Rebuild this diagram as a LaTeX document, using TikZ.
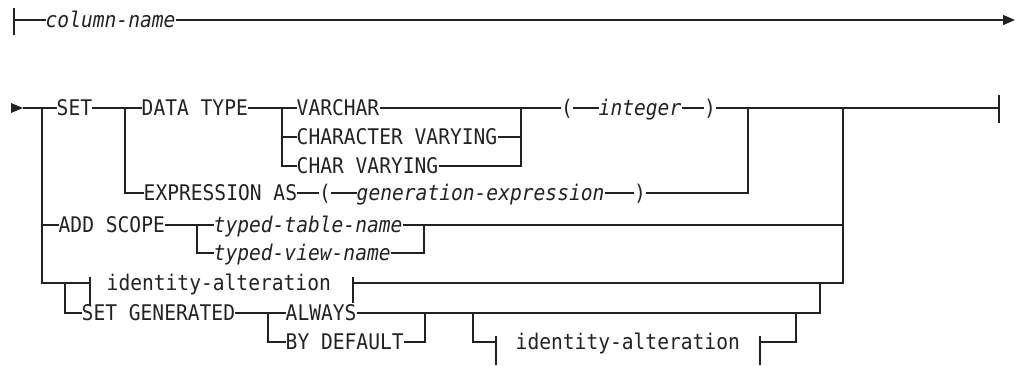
\documentclass[tikz,border=0pt]{standalone}
\usepackage{fontspec}
\setmonofont{DejaVu Sans Mono}
\usetikzlibrary{arrows.meta}
\definecolor{ink}{HTML}{222222}
\begin{document}
\begin{tikzpicture}[
  x=1pt, y=-1pt,
  rail/.style={line width=1.3pt, draw=ink},
  kw/.style={font=\ttfamily\fontsize{19.6pt}{20pt}\selectfont, text=ink,
    inner xsep=0pt, inner ysep=0pt, text height=14pt, text depth=0pt, anchor=west,
    execute at begin node={\setbox0=\hbox\bgroup},
    execute at end node={\egroup\scalebox{1}[1.1]{\box0}}},
  var/.style={kw, font=\ttfamily\itshape\fontsize{19.6pt}{20pt}\selectfont},
  endtip/.style={-{Triangle[length=12pt,width=10pt]}},
]
\useasboundingbox (0,0) rectangle (1017,365);

% ---------- first line: column-name ----------
\coordinate (r1s) at (14,20);
\coordinate (r1e) at (1015,20);
\node[var] (colname) at (45.5,20) {column-name};
\draw[rail] (14,8) -- (14,35);
\draw[rail] (r1s) -- (colname.west);
\draw[rail, endtip] (colname.east) -- (r1e);

% ---------- second line ----------
\fill[ink] (11,103) -- (23,108) -- (11,113) -- cycle;
\coordinate (r2s) at (23,108);
\coordinate (jA) at (42,108);
\coordinate (jB) at (125,108);
\coordinate (jC) at (282,108);
\coordinate (jD) at (521,108);
\coordinate (jE) at (748,108);
\coordinate (jF) at (843,108);
\coordinate (r2e) at (999,108);

% SET DATA TYPE ...
\node[kw] (set) at (56.5,108) {SET};
\node[kw] (dtype) at (141.5,108) {DATA TYPE};
\node[kw] (varchar) at (296.5,108) {VARCHAR};
\node[kw] (charvar) at (296.5,137) {CHARACTER VARYING};
\node[kw] (chvar) at (296.5,166) {CHAR VARYING};
\node[kw] (lp1) at (561,108) {(};
\node[var] (int) at (598.5,108) {integer};
\node[kw] (rp1) at (704,108) {)};

\draw[rail] (r2s) -- (set.west);
\draw[rail] (set.east) -- (dtype.west);
\draw[rail] (dtype.east) -- (varchar.west);
\draw[rail] (jC) |- (charvar.west);
\draw[rail] (jC) |- (chvar.west);
\draw[rail] (varchar.east) -- (lp1.west);
\draw[rail] (charvar.east) -| (jD);
\draw[rail] (chvar.east) -| (jD);
\draw[rail] (lp1.east) -- (int.west);
\draw[rail] (int.east) -- (rp1.west);
\draw[rail] (rp1.east) -- (r2e);
\draw[rail] (999,95) -- (999,123);

% EXPRESSION AS ( generation-expression )
\node[kw] (expr) at (143.5,193) {EXPRESSION AS};
\node[kw] (lp2) at (319,193) {(};
\node[var] (genexp) at (356.5,193) {generation-expression};
\node[kw] (rp2) at (634,193) {)};
\draw[rail] (jB) |- (expr.west);
\draw[rail] (expr.east) -- (lp2.west);
\draw[rail] (lp2.east) -- (genexp.west);
\draw[rail] (genexp.east) -- (rp2.west);
\draw[rail] (rp2.east) -| (jE);

% ADD SCOPE
\coordinate (jG) at (197,225);
\coordinate (jH) at (424,225);
\node[kw] (addscope) at (58.5,225) {ADD SCOPE};
\node[var] (ttn) at (213.5,225) {typed-table-name};
\node[var] (tvn) at (213.5,253) {typed-view-name};
\draw[rail] (jA) |- (addscope.west);
\draw[rail] (addscope.east) -- (ttn.west);
\draw[rail] (jG) |- (tvn.west);
\draw[rail] (tvn.east) -| (jH);
\draw[rail] (ttn.east) -| (jF);

% identity-alteration / SET GENERATED
\coordinate (jI) at (65,283);
\coordinate (fa1) at (90,283);
\coordinate (fa2) at (353,283);
\node[kw] (ida) at (106.5,283) {identity-alteration};
\draw[rail] (jA) |- (fa1);
\draw[rail] (90,277) -- (90,305);
\draw[rail] (353,277) -- (353,303);
\draw[rail] (fa2) -| (jF);

\coordinate (jJ) at (268,313);
\coordinate (jK) at (425,313);
\coordinate (jL) at (473,313);
\coordinate (jM) at (796,313);
\coordinate (jN) at (820,283);
\node[kw] (setgen) at (81.5,313) {SET GENERATED};
\node[kw] (always) at (285.5,313) {ALWAYS};
\node[kw] (bydef) at (285.5,342) {BY DEFAULT};
\draw[rail] (jI) |- (setgen.west);
\draw[rail] (setgen.east) -- (always.west);
\draw[rail] (jJ) |- (bydef.west);
\draw[rail] (bydef.east) -| (jK);
\draw[rail] (always.east) -| (jN);

\coordinate (fb1) at (496,342);
\coordinate (fb2) at (760,342);
\node[kw] (idb) at (515.5,342) {identity-alteration};
\draw[rail] (jL) |- (fb1);
\draw[rail] (496,336) -- (496,365);
\draw[rail] (760,336) -- (760,365);
\draw[rail] (fb2) -| (jM);
\end{tikzpicture}
\end{document}
